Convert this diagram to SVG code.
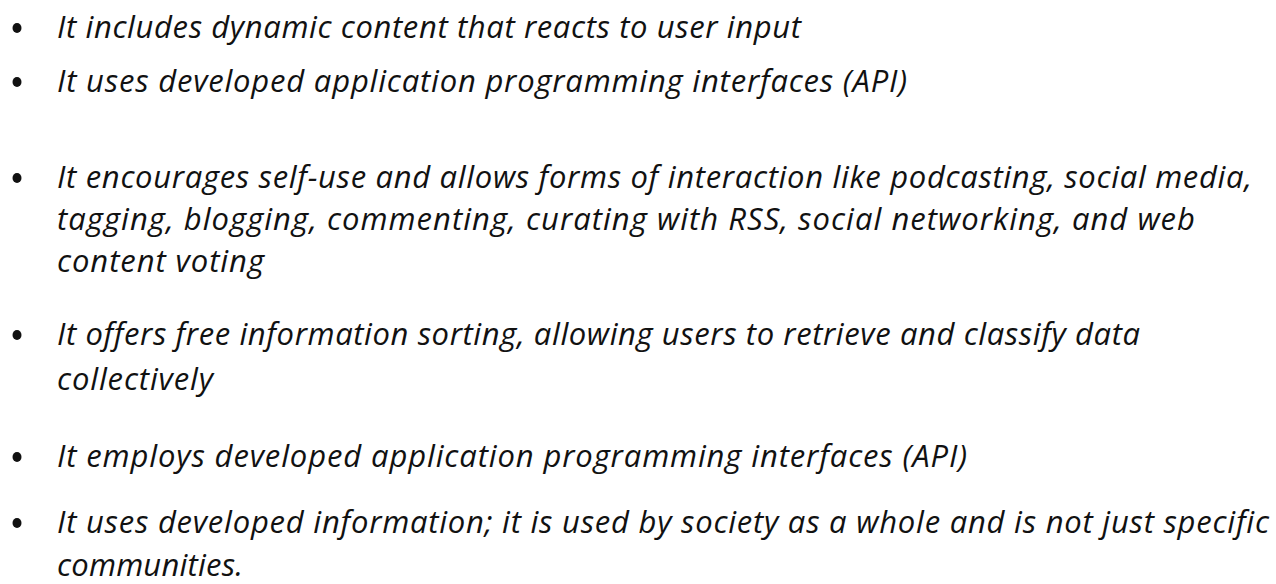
<svg xmlns="http://www.w3.org/2000/svg" width="1276" height="584" viewBox="0 0 1276 584">
<style>
.t{font-family:"Open Sans","Noto Sans","Liberation Sans",sans-serif;font-style:italic;font-size:31px;fill:#111;font-variant-ligatures:none;}
.b{fill:#111;}
</style>
<rect width="1276" height="584" fill="#fff"/>
<g id="item1"><ellipse class="b" cx="17" cy="28" rx="4.5" ry="5"/><text class="t" x="57" y="38" textLength="744" lengthAdjust="spacing">It includes dynamic content that reacts to user input</text></g>
<g id="item2"><ellipse class="b" cx="17" cy="82" rx="4.5" ry="5"/><text class="t" x="57" y="92" textLength="850" lengthAdjust="spacing">It uses developed application programming interfaces (API)</text></g>
<g id="item3"><ellipse class="b" cx="17" cy="178" rx="4.5" ry="5"/>
<text class="t" x="57" y="188" textLength="1195" lengthAdjust="spacing">It encourages self-use and allows forms of interaction like podcasting, social media,</text>
<text class="t" x="57" y="230" textLength="1138" lengthAdjust="spacing">tagging, blogging, commenting, curating with RSS, social networking, and web</text>
<text class="t" x="57" y="272" textLength="207" lengthAdjust="spacing">content voting</text></g>
<g id="item4"><ellipse class="b" cx="17" cy="335" rx="4.5" ry="5"/>
<text class="t" x="57" y="345" textLength="1083" lengthAdjust="spacing">It offers free information sorting, allowing users to retrieve and classify data</text>
<text class="t" x="57" y="390" textLength="156" lengthAdjust="spacing">collectively</text></g>
<g id="item5"><ellipse class="b" cx="17" cy="457" rx="4.5" ry="5"/><text class="t" x="57" y="467" textLength="910" lengthAdjust="spacing">It employs developed application programming interfaces (API)</text></g>
<g id="item6"><ellipse class="b" cx="17" cy="523" rx="4.5" ry="5"/>
<text class="t" x="57" y="533" textLength="1212" lengthAdjust="spacing">It uses developed information; it is used by society as a whole and is not just specific</text>
<text class="t" x="57" y="576" textLength="186" lengthAdjust="spacing">communities.</text></g>
</svg>
